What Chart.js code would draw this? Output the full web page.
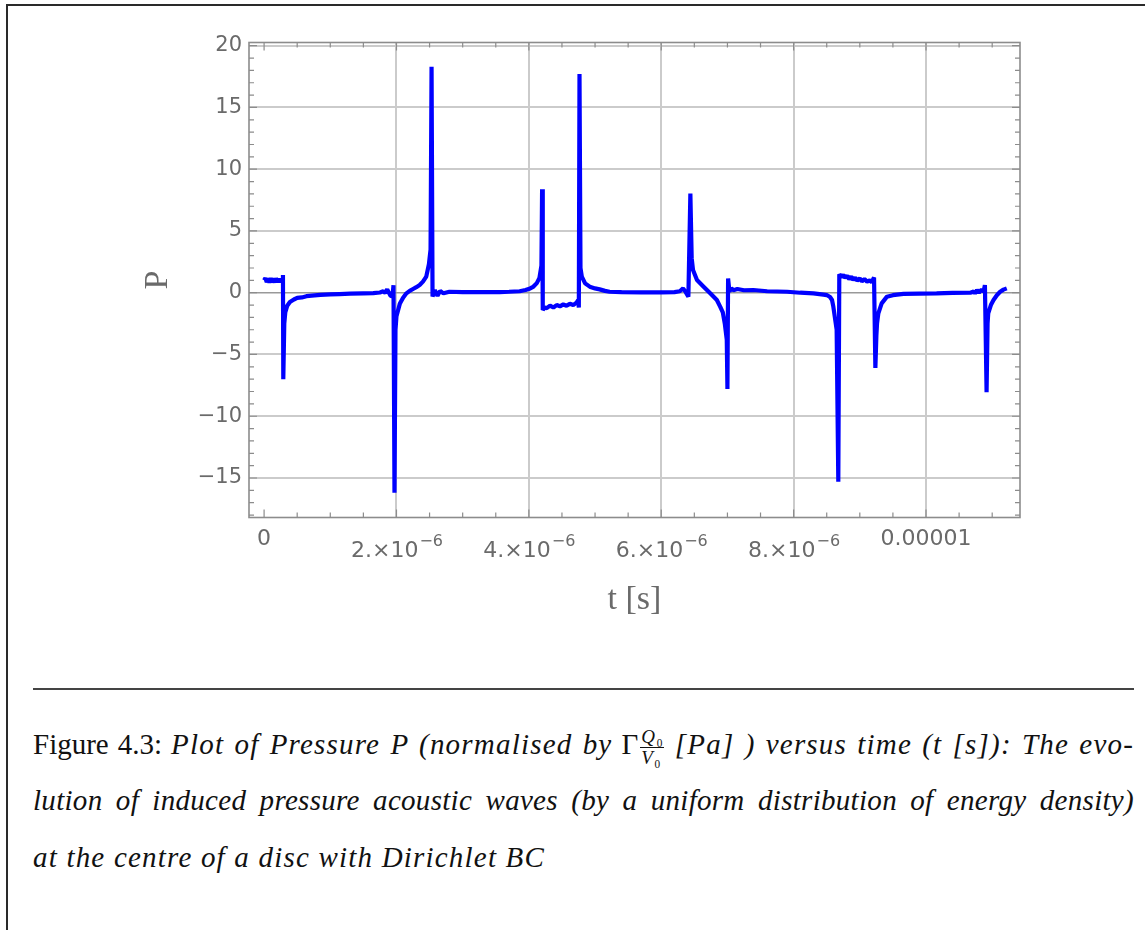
<!DOCTYPE html>
<html>
<head>
<meta charset="utf-8">
<script src="https://cdn.jsdelivr.net/npm/chart.js"></script>
<style>
  html, body { margin: 0; padding: 0; background: #fff; }
  body { width: 1145px; height: 930px; position: relative; overflow: hidden; }
  #chartBox { position: absolute; left: 0; top: 0; width: 1145px; height: 660px; }
  .rule { position: absolute; background: #2a2a2a; }
  .cap {
    position: absolute; left: 33px; width: 1101px;
    font-family: "Liberation Serif", "Times New Roman", serif;
    font-size: 29px; line-height: 32px; color: #111;
    white-space: nowrap;
  }
  .just { text-align: justify; text-align-last: justify; }
  .cap i { letter-spacing: 1.2px; }
  .cap.tight i { letter-spacing: 0.3px; }
  .frac { display: inline-block; vertical-align: -10px; text-align: center; font-size: 19px; line-height: 20px; margin: 0 2px; }
  .frac span { display: block; padding: 0 1px; }
  .frac .num { border-bottom: 1px solid #111; }
</style>
</head>
<body>
<div class="rule" style="left:7px; top:4px; width:1138px; height:2px;"></div>
<div class="rule" style="left:6px; top:4px; width:2px; height:926px;"></div>
<div id="chartBox"><canvas id="pressureChart"></canvas></div>
<div class="rule" style="left:33px; top:688px; width:1101px; height:2px; background:#444;"></div>

<div class="cap just" style="top:727px;">Figure 4.3: <i>Plot of Pressure P (normalised by</i> Γ<span class="frac"><span class="num"><i>Q</i>₀</span><span><i>V</i>₀</span></span> <i>[Pa] ) versus time (t [s]): The evo-</i></div>
<div class="cap just tight" style="top:784px;"><i>lution of induced pressure acoustic waves (by a uniform distribution of energy density)</i></div>
<div class="cap" style="top:841px;"><i>at the centre of a disc with Dirichlet BC</i></div>

<script>
// tempo em microssegundos (convertido para segundos no dataset)
const tMicro = [
  0.00, 0.02, 0.04, 0.06, 0.08, 0.10, 0.12, 0.14, 0.16, 0.18, 0.20, 0.22, 0.24, 0.26, 0.28,
  0.285, 0.29, 0.305, 0.32, 0.35, 0.39, 0.45, 0.50, 0.57, 0.64, 0.72, 0.85, 1.00, 1.14, 1.30,
  1.50, 1.65, 1.75, 1.80, 1.83, 1.86, 1.88, 1.91, 1.94, 1.955, 1.97, 1.985, 2.00, 2.05, 2.10,
  2.15, 2.20, 2.25, 2.30, 2.35, 2.40, 2.45, 2.49, 2.515, 2.53, 2.545, 2.58, 2.62, 2.66, 2.71,
  2.80, 3.00, 3.20, 3.40, 3.56, 3.70, 3.86, 3.95, 4.02, 4.07, 4.12, 4.16, 4.19, 4.20, 4.21,
  4.24, 4.27, 4.32, 4.37, 4.42, 4.47, 4.52, 4.57, 4.62, 4.67, 4.72, 4.745, 4.755, 4.765, 4.78,
  4.80, 4.85, 4.92, 5.00, 5.07, 5.15, 5.22, 5.40, 5.70, 6.00, 6.20, 6.28, 6.33, 6.37, 6.41,
  6.44, 6.46, 6.48, 6.54, 6.64, 6.74, 6.84, 6.89, 6.93, 6.96, 6.99, 7.00, 7.01, 7.03, 7.06,
  7.09, 7.15, 7.25, 7.39, 7.60, 7.90, 8.10, 8.30, 8.45, 8.50, 8.55, 8.58, 8.60, 8.65, 8.675,
  8.69, 8.72, 8.75, 8.78, 8.81, 8.84, 8.87, 8.90, 8.93, 8.96, 9.00, 9.03, 9.07, 9.11, 9.15,
  9.18, 9.215, 9.235, 9.25, 9.26, 9.28, 9.33, 9.41, 9.50, 9.66, 9.90, 10.16, 10.40, 10.67, 10.72,
  10.74, 10.77, 10.80, 10.84, 10.87, 10.89, 10.915, 10.93, 10.94, 10.98, 11.02, 11.07, 11.12, 11.17, 11.22
];
const pressure = [
  1.00, 1.18, 0.85, 1.15, 0.82, 1.18, 0.85, 1.15, 0.83, 1.17, 0.85, 1.12, 0.88, 1.05, 1.00,
  1.43, -7.0, -2.5, -1.6, -1.05, -0.75, -0.55, -0.42, -0.38, -0.28, -0.24, -0.18, -0.14, -0.11, -0.08,
  -0.05, -0.03, 0.02, 0.12, -0.02, 0.28, 0.05, -0.25, -0.30, 0.60, -16.2, -3.0, -1.9, -0.9, -0.4,
  -0.05, 0.15, 0.30, 0.45, 0.62, 0.90, 1.30, 2.30, 3.50, 18.3, -0.30, 0.20, -0.25, 0.15, -0.05,
  0.08, 0.05, 0.06, 0.05, 0.05, 0.08, 0.12, 0.22, 0.35, 0.50, 0.78, 1.20, 2.20, 8.37, -1.40,
  -1.20, -1.25, -1.05, -1.20, -1.00, -1.10, -0.95, -1.05, -0.90, -1.00, -0.80, -0.60, -1.20, 17.7, 2.0,
  1.30, 0.76, 0.49, 0.35, 0.27, 0.15, 0.08, 0.05, 0.03, 0.02, 0.05, 0.12, 0.35, 0.05, -0.32,
  8.04, 2.80, 1.84, 1.03, 0.49, -0.05, -0.59, -1.13, -1.60, -2.50, -3.80, -7.8, 1.16, 0.10, 0.35,
  0.20, 0.30, 0.20, 0.22, 0.12, 0.08, 0.00, -0.05, -0.15, -0.19, -0.35, -0.59, -1.13, -3.0, -15.3,
  1.50, 1.25, 1.45, 1.20, 1.38, 1.10, 1.30, 1.05, 1.22, 0.98, 1.15, 0.92, 1.10, 0.90, 1.00,
  0.85, 1.24, -6.1, -3.5, -2.5, -1.67, -0.86, -0.32, -0.20, -0.10, -0.07, -0.05, -0.02, 0.00, 0.10,
  -0.05, 0.22, 0.00, 0.25, 0.10, 0.62, -8.06, -2.5, -1.67, -1.00, -0.59, -0.20, 0.08, 0.25, 0.35
];

// eixos
const xMin = -0.228e-6, xMax = 11.42e-6;
const yMin = -18.2, yMax = 20.26;
const xTickValues = [0, 2e-6, 4e-6, 6e-6, 8e-6, 1e-5];
const xTickBase = ['0', '2.×10', '4.×10', '6.×10', '8.×10', '0.00001'];
const xTickExp = ['', '−6', '−6', '−6', '−6', ''];
const xGridValues = [2e-6, 4e-6, 6e-6, 8e-6, 1e-5];
const yTickValues = [-15, -10, -5, 0, 5, 10, 15, 20];
const yGridValues = [-15, -10, -5, 5, 10, 15, 20];

const gridColor = '#cbcbcb';
const frameColor = '#8c8c8c';
const labelColor = '#6a6a6a';

// plugin para desenhar moldura, grade e rótulos no estilo Mathematica
const framePlugin = {
  id: 'mmaFrame',
  beforeDatasetsDraw(chart) {
    const {ctx, chartArea: a, scales: {x, y}} = chart;
    ctx.save();
    ctx.strokeStyle = gridColor;
    ctx.lineWidth = 2;
    ctx.beginPath();
    xGridValues.forEach(v => {
      const px = Math.round(x.getPixelForValue(v));
      ctx.moveTo(px, a.top); ctx.lineTo(px, a.bottom);
    });
    yGridValues.forEach(v => {
      const py = Math.round(y.getPixelForValue(v));
      ctx.moveTo(a.left, py); ctx.lineTo(a.right, py);
    });
    ctx.stroke();
    // eixo em P = 0
    ctx.strokeStyle = '#999';
    ctx.lineWidth = 1.6;
    ctx.beginPath();
    const y0 = y.getPixelForValue(0);
    ctx.moveTo(a.left, y0); ctx.lineTo(a.right, y0);
    ctx.stroke();
    ctx.restore();
  },
  afterDatasetsDraw(chart) {
    const {ctx, chartArea: a, scales: {x, y}} = chart;
    ctx.save();
    ctx.strokeStyle = frameColor;
    ctx.lineWidth = 1.6;
    ctx.strokeRect(a.left, a.top, a.right - a.left, a.bottom - a.top);

    // marcas internas
    ctx.lineWidth = 1.2;
    ctx.beginPath();
    for (let k = 0; k <= 22; k++) {
      const v = k * 0.5e-6;
      const px = x.getPixelForValue(v);
      const len = (k % 4 === 0) ? 8 : 5;
      ctx.moveTo(px, a.bottom); ctx.lineTo(px, a.bottom - len);
      ctx.moveTo(px, a.top); ctx.lineTo(px, a.top + len);
    }
    for (let v = -18; v <= 20; v++) {
      const py = y.getPixelForValue(v);
      const len = (v % 5 === 0) ? 8 : 5;
      ctx.moveTo(a.left, py); ctx.lineTo(a.left + len, py);
      ctx.moveTo(a.right, py); ctx.lineTo(a.right - len, py);
    }
    ctx.stroke();

    // rótulos do eixo y
    ctx.fillStyle = labelColor;
    ctx.font = '21px "DejaVu Sans", sans-serif';
    ctx.textAlign = 'right';
    ctx.textBaseline = 'middle';
    yTickValues.forEach(v => {
      const txt = v < 0 ? '−' + Math.abs(v) : String(v);
      ctx.fillText(txt, a.left - 7, y.getPixelForValue(v));
    });

    // rótulos do eixo x (com expoente)
    xTickValues.forEach((v, i) => {
      const px = x.getPixelForValue(v);
      if (!xTickExp[i]) {
        ctx.font = '22px "DejaVu Sans", sans-serif';
        ctx.textAlign = 'center';
        ctx.fillText(xTickBase[i], px, a.bottom + 22);
        return;
      }
      ctx.font = '22px "DejaVu Sans", sans-serif';
      const wb = ctx.measureText(xTickBase[i]).width;
      ctx.font = '16px "DejaVu Sans", sans-serif';
      const we = ctx.measureText(xTickExp[i]).width;
      const start = px - (wb + we) / 2;
      ctx.textAlign = 'left';
      ctx.font = '22px "DejaVu Sans", sans-serif';
      ctx.fillText(xTickBase[i], start, a.bottom + 34);
      ctx.font = '16px "DejaVu Sans", sans-serif';
      ctx.fillText(xTickExp[i], start + wb + 1, a.bottom + 24);
    });

    // títulos dos eixos
    ctx.font = '34px "Liberation Serif", serif';
    ctx.textAlign = 'center';
    ctx.fillText('t [s]', (a.left + a.right) / 2, a.bottom + 83);
    ctx.translate(158, (a.top + a.bottom) / 2);
    ctx.rotate(-Math.PI / 2);
    ctx.fillText('P', 0, 0);
    ctx.restore();
  }
};

function renderPressureChart() {
  const canvas = document.getElementById('pressureChart');
  if (!canvas) {
    console.error('Canvas pressureChart não encontrado');
    return;
  }
  const points = tMicro.map((t, i) => ({ x: t * 1e-6, y: pressure[i] }));
  new Chart(canvas, {
    type: 'scatter',
    data: {
      datasets: [{
        data: points,
        showLine: true,
        borderColor: '#0000ff',
        borderWidth: 4.2,
        borderJoinStyle: 'bevel',
        borderCapStyle: 'butt',
        pointRadius: 0,
        tension: 0
      }]
    },
    options: {
      responsive: true,
      maintainAspectRatio: false,
      animation: false,
      layout: { padding: { left: 249, top: 42.5, right: 125, bottom: 142.5 } },
      plugins: { legend: { display: false }, tooltip: { enabled: false } },
      scales: {
        x: { type: 'linear', display: false, min: xMin, max: xMax },
        y: { type: 'linear', display: false, min: yMin, max: yMax }
      }
    },
    plugins: [framePlugin]
  });
}

renderPressureChart();
</script>
</body>
</html>
